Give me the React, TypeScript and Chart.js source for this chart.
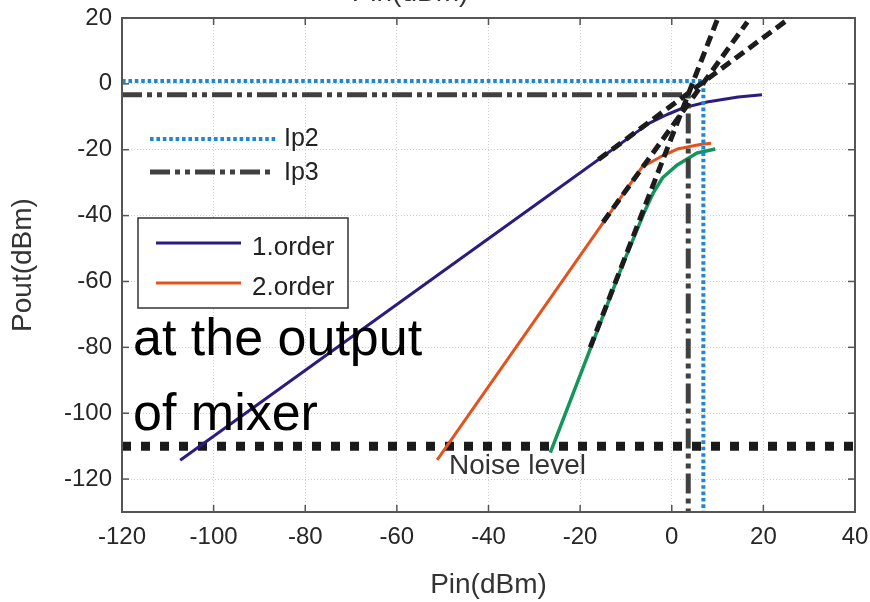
import React, { useEffect, useRef } from 'react';
import { Chart, registerables } from 'chart.js';
Chart.register(...registerables);

// ---- data ----
const xTickValues = [-120, -100, -80, -60, -40, -20, 0, 20, 40];
const yTickValues = [-120, -100, -80, -60, -40, -20, 0, 20];

const order1X = [-107.3, -50, -25, -5, -1, 2.5, 7.7, 14.5, 19.7];
const order1Y = [-114.3, -57, -32, -12, -9.3, -7.3, -5.5, -4, -3.3];

const order2X = [-51.2, -15, -6.5, -2.5, 1.2, 6.2, 8.6];
const order2Y = [-114.2, -42.2, -25.3, -22.2, -19.8, -18.4, -18];

const order3X = [-26.5, -20.7, -10.6, -6, -4, -2, 1.2, 5.5, 9.5];
const order3Y = [-112, -91, -54.5, -39, -33, -28.5, -24.6, -21, -19.8];

const asym1X = [-16, 25.2];
const asym1Y = [-23, 19.4];
const asym2X = [-15, 16.5];
const asym2Y = [-42, 18.8];
const asym3X = [-17.8, 9.9];
const asym3Y = [-80, 19.4];

const ip2X = [-120, 6.9, 6.9];
const ip2Y = [0.9, 0.9, -130];
const ip3X = [-120, 3.6, 3.6];
const ip3Y = [-3.3, -3.3, -130];

const noiseX = [-120, 40];
const noiseY = [-110, -110];

const seriesLabels = ['1.order', '2.order'];
const ipLabels = ['Ip2', 'Ip3'];
const noteLines = ['at the output', 'of mixer'];
const noiseLabel = 'Noise level';
const xTitle = 'Pin(dBm)';
const yTitle = 'Pout(dBm)';

// ---- styles ----
const FONT = '"Liberation Sans", Arial, Helvetica, sans-serif';
const C1 = '#2b1d80';
const C2 = '#e4531c';
const C3 = '#14955a';
const CIP2 = '#1f88d6';
const CIP3 = '#404040';
const CASYM = '#1c1c1c';
const IP2_DASH = [3.6, 2.8];
const IP3_DASH = [20, 5, 5, 5, 5, 5];

const pts = (xs: number[], ys: number[]) => xs.map((x, i) => ({ x, y: ys[i] }));

const overlay = {
  id: 'overlay',
  afterDatasetsDraw(chart: any) {
    const { ctx, chartArea: a, scales } = chart;
    const xs = scales.x;
    const ys = scales.y;
    ctx.save();
    const seg = (x1: number, y1: number, x2: number, y2: number) => {
      ctx.beginPath();
      ctx.moveTo(x1, y1);
      ctx.lineTo(x2, y2);
      ctx.stroke();
    };
    // frame
    ctx.setLineDash([]);
    ctx.strokeStyle = '#555';
    ctx.lineWidth = 2;
    ctx.strokeRect(a.left, a.top, a.right - a.left, a.bottom - a.top);
    // inward ticks
    ctx.lineWidth = 1.5;
    for (const t of xs.ticks) {
      const p = xs.getPixelForValue(t.value);
      seg(p, a.bottom, p, a.bottom - 7);
      seg(p, a.top, p, a.top + 7);
    }
    for (const t of ys.ticks) {
      const p = ys.getPixelForValue(t.value);
      seg(a.left, p, a.left + 7, p);
      seg(a.right, p, a.right - 7, p);
    }

    // Ip2 / Ip3 legend (no box)
    ctx.lineCap = 'butt';
    ctx.strokeStyle = CIP2;
    ctx.lineWidth = 4;
    ctx.setLineDash(IP2_DASH);
    seg(150, 139, 277, 139);
    ctx.strokeStyle = CIP3;
    ctx.lineWidth = 5;
    ctx.setLineDash(IP3_DASH);
    seg(150, 172, 273, 172);
    ctx.setLineDash([]);
    ctx.fillStyle = '#222';
    ctx.font = `25px ${FONT}`;
    ctx.textAlign = 'left';
    ctx.textBaseline = 'alphabetic';
    ctx.fillText(ipLabels[0], 284, 146);
    ctx.fillText(ipLabels[1], 284, 180);

    // series legend box
    ctx.fillStyle = '#fff';
    ctx.fillRect(138, 218, 210, 90);
    ctx.strokeStyle = '#333';
    ctx.lineWidth = 1.5;
    ctx.strokeRect(138, 218, 210, 90);
    ctx.lineWidth = 3;
    ctx.strokeStyle = C1;
    seg(156, 243, 241, 243);
    ctx.strokeStyle = C2;
    seg(156, 283, 241, 283);
    ctx.fillStyle = '#222';
    ctx.font = `26px ${FONT}`;
    ctx.fillText(seriesLabels[0], 252, 255);
    ctx.fillText(seriesLabels[1], 252, 295);

    // big note
    ctx.fillStyle = '#000';
    ctx.font = `52px ${FONT}`;
    ctx.fillText(noteLines[0], 133, 355);
    ctx.fillText(noteLines[1], 133, 430);

    // noise level label
    ctx.fillStyle = '#333';
    ctx.font = `28px ${FONT}`;
    ctx.fillText(noiseLabel, 449, 474);
    ctx.restore();
  },
  afterDraw(chart: any) {
    const { ctx } = chart;
    ctx.save();
    ctx.fillStyle = '#333';
    ctx.font = `28px ${FONT}`;
    ctx.textAlign = 'center';
    ctx.textBaseline = 'alphabetic';
    ctx.fillText(xTitle, 410, 0.5);
    ctx.restore();
  },
};

export default function App() {
  const ref = useRef<HTMLCanvasElement>(null);
  useEffect(() => {
    const common = (w: number, dash: number[] | undefined, color: string) => ({
      showLine: true,
      borderColor: color,
      backgroundColor: color,
      borderWidth: w,
      borderDash: dash || [],
      pointRadius: 0,
      pointHoverRadius: 0,
      fill: false,
      tension: 0,
      borderCapStyle: 'butt' as const,
      borderJoinStyle: 'round' as const,
    });
    const chart = new Chart(ref.current!, {
      type: 'scatter',
      data: {
        datasets: [
          { label: 'asym1', data: pts(asym1X, asym1Y), ...common(5, [11, 6], CASYM) },
          { label: 'asym2', data: pts(asym2X, asym2Y), ...common(5, [11, 6], CASYM) },
          { label: 'asym3', data: pts(asym3X, asym3Y), ...common(5, [11, 6], CASYM) },
          { label: 'Ip3', data: pts(ip3X, ip3Y), ...common(5, IP3_DASH, CIP3) },
          { label: 'Ip2', data: pts(ip2X, ip2Y), ...common(4, IP2_DASH, CIP2) },
          { label: seriesLabels[0], data: pts(order1X, order1Y), ...common(3, undefined, C1) },
          { label: seriesLabels[1], data: pts(order2X, order2Y), ...common(3, undefined, C2) },
          { label: '3.order', data: pts(order3X, order3Y), ...common(3.5, undefined, C3) },
          { label: noiseLabel, data: pts(noiseX, noiseY), ...common(9, [9, 10], '#1a1a1a') },
        ],
      },
      options: {
        responsive: false,
        animation: false,
        devicePixelRatio: 1,
        layout: { padding: { top: 18, right: 15, left: 0, bottom: 0 } },
        plugins: { legend: { display: false }, tooltip: { enabled: false } },
        events: [],
        scales: {
          x: {
            type: 'linear',
            min: -120,
            max: 40,
            afterBuildTicks: (s: any) => {
              s.ticks = xTickValues.map((v) => ({ value: v }));
            },
            afterFit: (s: any) => {
              s.height = 90;
              s.paddingLeft = 0;
              s.paddingRight = 0;
            },
            ticks: { color: '#262626', font: { family: FONT, size: 24 }, padding: 11, maxRotation: 0, autoSkip: false },
            grid: { color: '#cfcfcf', lineWidth: 1, drawTicks: false },
            border: { display: false, dash: [1, 2] },
            title: { display: true, text: xTitle, color: '#333', font: { family: FONT, size: 28 }, padding: { top: 0, bottom: 0 } },
          },
          y: {
            type: 'linear',
            min: -130,
            max: 20,
            afterBuildTicks: (s: any) => {
              s.ticks = yTickValues.map((v) => ({ value: v }));
            },
            afterFit: (s: any) => {
              s.width = 122;
              s.paddingTop = 0;
              s.paddingBottom = 0;
            },
            ticks: { color: '#262626', font: { family: FONT, size: 24 }, padding: 10, autoSkip: false },
            grid: { color: '#cfcfcf', lineWidth: 1, drawTicks: false },
            border: { display: false, dash: [1, 2] },
            title: { display: true, text: yTitle, color: '#333', font: { family: FONT, size: 28 }, padding: { top: 6, bottom: 0 } },
          },
        },
      },
      plugins: [overlay],
    } as any);
    return () => chart.destroy();
  }, []);
  return (
    <div style={{ position: 'fixed', left: 0, top: 0, width: 870, height: 602, background: '#fff' }}>
      <canvas ref={ref} width={870} height={602} style={{ display: 'block', width: 870, height: 602 }} />
    </div>
  );
}
